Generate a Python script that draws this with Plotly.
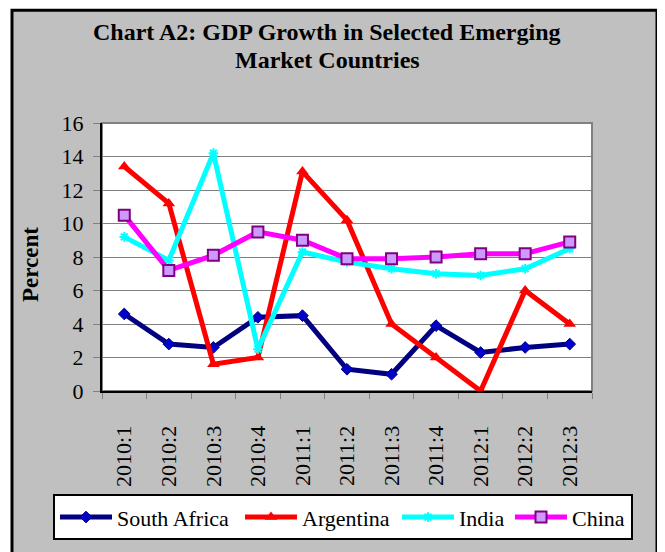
import plotly.graph_objects as go

categories = ["2010:1", "2010:2", "2010:3", "2010:4", "2011:1", "2011:2",
              "2011:3", "2011:4", "2012:1", "2012:2", "2012:3"]
south_africa = [4.6, 2.8, 2.6, 4.4, 4.5, 1.3, 1.0, 3.9, 2.3, 2.6, 2.8]
argentina = [13.4, 11.2, 1.6, 2.0, 13.1, 10.2, 4.0, 2.0, 0.0, 6.0, 4.0]
india = [9.2, 7.8, 14.2, 2.5, 8.3, 7.7, 7.3, 7.0, 6.9, 7.3, 8.5]
china = [10.5, 7.2, 8.1, 9.5, 9.0, 7.9, 7.9, 8.0, 8.2, 8.2, 8.9]
y_ticks = [0, 2, 4, 6, 8, 10, 12, 14, 16]

# page has an 8px body margin, so the figure is slightly smaller and
# all layout positions below are given in page pixels minus that offset
OFF = 8
W, H = 665 - OFF, 552 - OFF
L, R, T, B = 102 - OFF, 592 - OFF, 123 - OFF, 393 - OFF  # plot area (figure px)
pw, ph = R - L, B - T


def px_x(v):  # page px -> paper x
    return (v - OFF - L) / pw


def px_y(v):  # page px -> paper y
    return (B - (v - OFF)) / ph


FONT = "Times New Roman"

fig = go.Figure()
fig.add_trace(go.Scatter(
    x=categories, y=south_africa, name="South Africa", mode="lines+markers",
    line=dict(color="#000080", width=5), legendwidth=118,
    marker=dict(symbol="diamond", size=9, color="#0000CC", line=dict(color="#000080", width=1))))
fig.add_trace(go.Scatter(
    x=categories, y=argentina, name="Argentina", mode="lines+markers",
    line=dict(color="#FF0000", width=5), legendwidth=90,
    marker=dict(symbol="triangle-up", size=11, color="#FF0000")))
fig.add_trace(go.Scatter(
    x=categories, y=india, name="India", mode="lines+markers",
    line=dict(color="#00FFFF", width=5), legendwidth=46,
    marker=dict(symbol="asterisk", size=8, color="#00FFFF", line=dict(color="#00FFFF", width=2))))
fig.add_trace(go.Scatter(
    x=categories, y=china, name="China", mode="lines+markers",
    line=dict(color="#FF00FF", width=5), legendwidth=54,
    marker=dict(symbol="square", size=11, color="#CC99FF", line=dict(color="#800080", width=2))))

shapes = [
    # outer gray frame
    dict(type="rect", xref="paper", yref="paper", layer="below",
         x0=px_x(12), x1=px_x(657), y0=px_y(580), y1=px_y(9.5),
         fillcolor="#C0C0C0", line=dict(color="#000000", width=3)),
    # plot area
    dict(type="rect", xref="paper", yref="paper", layer="below",
         x0=0, x1=1, y0=0, y1=1,
         fillcolor="#FFFFFF", line=dict(color="#808080", width=2)),
]

annotations = [
    dict(text="<b>Chart A2: GDP Growth in Selected Emerging</b>",
         xref="paper", yref="paper", x=px_x(327), y=px_y(31),
         xanchor="center", yanchor="middle", showarrow=False,
         font=dict(family=FONT, size=24, color="#000000")),
    dict(text="<b>Market Countries</b>",
         xref="paper", yref="paper", x=px_x(327), y=px_y(60),
         xanchor="center", yanchor="middle", showarrow=False,
         font=dict(family=FONT, size=24, color="#000000")),
    dict(text="<b>Percent</b>", xref="paper", yref="paper",
         x=px_x(31), y=px_y(266), xanchor="center", yanchor="middle",
         textangle=-90, showarrow=False,
         font=dict(family=FONT, size=23, color="#000000")),
]

fig.update_layout(
    width=W, height=H,
    margin=dict(l=L, r=W - R, t=T, b=H - B, pad=0),
    paper_bgcolor="#FFFFFF", plot_bgcolor="rgba(0,0,0,0)",
    showlegend=True,
    legend=dict(orientation="h", x=px_x(53), y=px_y(497), xanchor="left", yanchor="top",
                bgcolor="#FFFFFF", bordercolor="#000000", borderwidth=2,
                font=dict(family=FONT, size=22, color="#000000"),
                itemwidth=52, tracegroupgap=0),
    shapes=shapes, annotations=annotations,
    font=dict(family=FONT, color="#000000"),
)
fig.update_xaxes(
    type="category", tickson="boundaries", ticks="outside", ticklen=6,
    tickcolor="#808080", tickangle=-90, showgrid=False, automargin=False,
    showline=True, linecolor="#000000", linewidth=2,
    tickfont=dict(family=FONT, size=22, color="#000000"),
    ticklabelstandoff=24, range=[-0.5, len(categories) - 0.5],
)
fig.update_yaxes(
    range=[0, 16], tickvals=y_ticks, ticks="outside", ticklen=7, automargin=False,
    tickcolor="#808080", showgrid=True, gridcolor="#808080", gridwidth=1,
    showline=True, linecolor="#000000", linewidth=2, zeroline=False,
    tickfont=dict(family=FONT, size=22, color="#000000"),
    ticklabelstandoff=5,
)

fig.write_html("out.html")
